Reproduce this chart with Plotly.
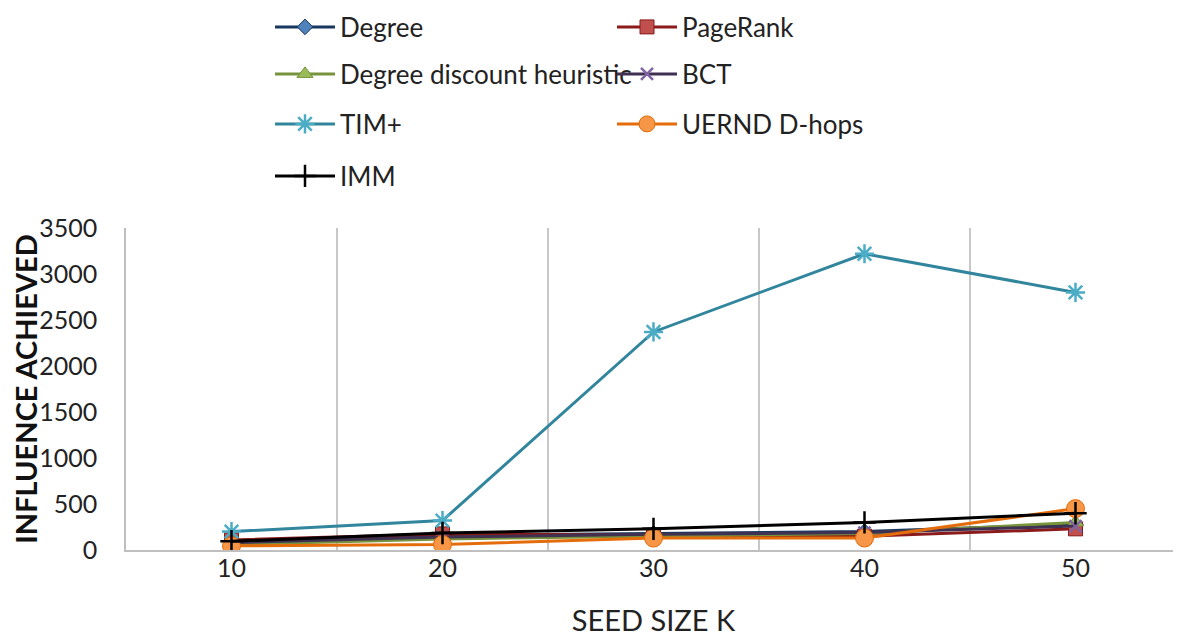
import plotly.graph_objects as go

seed_sizes = ["10", "20", "30", "40", "50"]

degree = [90, 160, 180, 200, 280]
pagerank = [110, 175, 160, 150, 230]
ddh = [60, 120, 150, 180, 300]
bct = [80, 140, 170, 190, 260]
tim_plus = [200, 320, 2370, 3220, 2800]
uernd = [45, 60, 130, 130, 450]
imm = [95, 185, 230, 300, 400]

series = [
    ("Degree", degree, "#17375E", "#4F81BD", "diamond", 12, "legend"),
    ("PageRank", pagerank, "#8B1A1A", "#C0504D", "square", 14, "legend"),
    ("Degree discount heuristic", ddh, "#77933C", "#9BBB59", "triangle-up", 14, "legend2"),
    ("BCT", bct, "#403152", "#8064A2", "x-thin-open", 12, "legend2"),
    ("TIM+", tim_plus, "#31859C", "#4BACC6", "asterisk-open", 16, "legend3"),
    ("UERND D-hops", uernd, "#E46C0A", "#F79646", "circle", 18, "legend3"),
    ("IMM", imm, "#000000", "#000000", "cross-thin-open", 16, "legend4"),
]

fig = go.Figure()
for name, vals, lc, mc, sym, ms, lg in series:
    fig.add_trace(go.Scatter(
        x=seed_sizes, y=vals, name=name, mode="lines+markers",
        line=dict(color=lc, width=3),
        marker=dict(symbol=sym, size=ms, color=mc,
                    line=dict(color=mc if "open" in sym else lc, width=2.5 if "open" in sym else 1)),
        legend=lg,
    ))

font_family = "Lato, 'Open Sans', sans-serif"
H = 639

def cy(px):
    return 1 - px / H

legend_common = dict(orientation="h", xanchor="left", yanchor="middle",
                     xref="container", x=262 / 1181, yref="container",
                     entrywidth=267, entrywidthmode="pixels",
                     itemwidth=60, font=dict(size=26, color="#222", family=font_family),
                     bgcolor="rgba(0,0,0,0)", itemclick=False)

fig.update_layout(
    width=1181, height=639,
    margin=dict(l=118, r=8, t=220, b=97, autoexpand=False),
    paper_bgcolor="white", plot_bgcolor="white",
    font=dict(family=font_family, color="#222"),
    legend=dict(**legend_common, y=cy(19)),
    legend2=dict(**legend_common, y=cy(66)),
    legend3=dict(**legend_common, y=cy(116)),
    legend4=dict(**legend_common, y=cy(168)),
    xaxis=dict(type="category", tickson="boundaries", showgrid=True,
               gridcolor="#C8C8C8", gridwidth=1.5, showline=True, linecolor="#BFBFBF",
               linewidth=1.5, ticks="", tickfont=dict(size=25, color="#222"),
               ticklabelstandoff=-5,
               title=dict(text="SEED SIZE K", font=dict(size=29, color="#222"), standoff=30),
               range=[-0.5, 4.5], automargin=False),
    yaxis=dict(range=[0, 3500], dtick=500, showgrid=False, showline=True,
               linecolor="#BFBFBF", linewidth=1.5, ticks="", zeroline=False,
               ticklabelstandoff=22, automargin=False,
               tickfont=dict(size=25, color="#222"),
               title=dict(text="<b>INFLUENCE ACHIEVED</b>", font=dict(size=29, color="#111"), standoff=0)),
)

fig.write_html("out.html")
